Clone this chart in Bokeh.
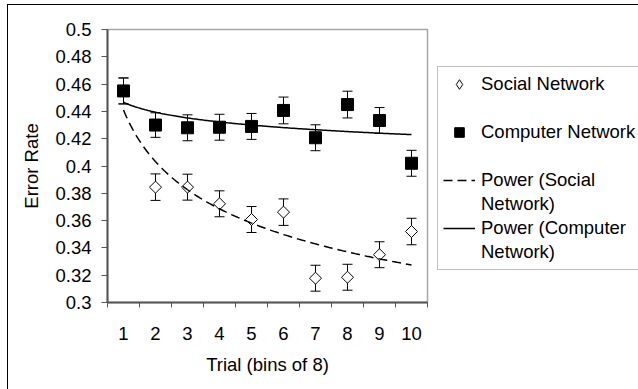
import numpy as np
from bokeh.plotting import figure
from bokeh.models import (ColumnDataSource, Whisker, TeeHead, FixedTicker,
                          Legend, LegendItem, Range1d)
from bokeh.embed import file_html
from bokeh.resources import INLINE

# ---- data ----
trials = [1, 2, 3, 4, 5, 6, 7, 8, 9, 10]
social_rate = [0.455, 0.3845, 0.3845, 0.3723, 0.3608, 0.3662, 0.3178, 0.3185, 0.335, 0.352]
social_err = [0.0095, 0.0097, 0.0095, 0.0095, 0.0095, 0.0097, 0.0095, 0.0095, 0.0095, 0.0097]
computer_rate = [0.455, 0.4300, 0.428, 0.4284, 0.429, 0.4407, 0.4207, 0.445, 0.4333, 0.402]
computer_err = [0.0095, 0.009, 0.0095, 0.0095, 0.0095, 0.0098, 0.0095, 0.0098, 0.0095, 0.0095]

y_ticks = [0.3, 0.32, 0.34, 0.36, 0.38, 0.4, 0.42, 0.44, 0.46, 0.48, 0.5]
y_tick_labels = ["0.3", "0.32", "0.34", "0.36", "0.38", "0.4", "0.42", "0.44", "0.46", "0.48", "0.5"]
x_tick_labels = ["1", "2", "3", "4", "5", "6", "7", "8", "9", "10"]
x_label = "Trial (bins of 8)"
y_label = "Error Rate"
legend_lines = ["Social Network", " ", "Computer Network", " ",
                "Power (Social", "Network)", "Power (Computer", "Network)"]

FONT = "Liberation Sans"
FS = "18.5px"

p = figure(frame_width=320, frame_height=273, output_backend="svg", toolbar_location=None,
           x_range=Range1d(0.5, 10.5), y_range=Range1d(0.3, 0.5),
           min_border_left=99, min_border_right=211, min_border_top=24,
           min_border_bottom=87,
           styles={"margin-top": "4px", "margin-left": "7px",
                   "border-top": "1px solid black", "border-left": "1px solid black"})
p.background_fill_color = "white"
p.border_fill_color = "white"
p.outline_line_color = "#a6a6a6"
p.outline_line_width = 1.5
p.grid.visible = False

# x axis
p.xaxis.ticker = FixedTicker(ticks=trials, minor_ticks=[t - 0.5 for t in trials] + [trials[-1] + 0.5])
p.xaxis.major_label_overrides = {t: l for t, l in zip(trials, x_tick_labels)}
p.xaxis.major_tick_out = 0
p.xaxis.major_tick_in = 0
p.xaxis.minor_tick_out = 5
p.xaxis.minor_tick_in = 0
p.xaxis.major_label_standoff = 19
p.xaxis.axis_label = x_label
p.xaxis.axis_label_standoff = 11

# y axis
p.yaxis.ticker = FixedTicker(ticks=y_ticks, minor_ticks=[])
p.yaxis.major_label_overrides = {t: l for t, l in zip(y_ticks, y_tick_labels)}
p.yaxis.major_tick_out = 6
p.yaxis.major_tick_in = 0
p.yaxis.major_label_standoff = 10
p.yaxis.axis_label = y_label
p.yaxis.axis_label_standoff = 10

for ax in (p.xaxis, p.yaxis):
    ax.axis_line_color = "#555555"
    ax.axis_line_width = 2
    ax.major_tick_line_color = "#555555"
    ax.minor_tick_line_color = "#555555"
    ax.major_label_text_font = FONT
    ax.major_label_text_font_size = FS
    ax.major_label_text_color = "black"
    ax.axis_label_text_font = FONT
    ax.axis_label_text_font_size = FS
    ax.axis_label_text_font_style = "normal"
    ax.axis_label_text_color = "black"

# sources
s_src = ColumnDataSource(dict(x=trials, y=social_rate,
                              upper=[v + e for v, e in zip(social_rate, social_err)],
                              lower=[v - e for v, e in zip(social_rate, social_err)]))
c_src = ColumnDataSource(dict(x=trials, y=computer_rate,
                              upper=[v + e for v, e in zip(computer_rate, computer_err)],
                              lower=[v - e for v, e in zip(computer_rate, computer_err)]))

for src in (s_src, c_src):
    w = Whisker(base="x", upper="upper", lower="lower", source=src, dimension="height",
                line_color="black", line_width=1, level="underlay",
                upper_head=TeeHead(size=10, line_color="black", line_width=1),
                lower_head=TeeHead(size=10, line_color="black", line_width=1))
    p.add_layout(w)

r_social = p.scatter("x", "y", source=s_src, marker="square", angle=np.pi / 4, size=8.5,
                     fill_color="white", line_color="black", line_width=1)
r_comp = p.scatter("x", "y", source=c_src, marker="square", size=12,
                   fill_color="black", line_color="black")

# power trend lines (least squares fit in log-log space, as a spreadsheet does)
lx = np.log(np.array(trials, dtype=float))
b_s, lna_s = np.polyfit(lx, np.log(social_rate), 1)
b_c, lna_c = np.polyfit(lx, np.log(computer_rate), 1)
xs = np.linspace(trials[0], trials[-1], 200)
r_pow_s = p.line(xs, np.exp(lna_s) * xs ** b_s, line_color="black", line_width=1.5,
                 line_dash="9 5")
r_pow_c = p.line(xs, np.exp(lna_c) * xs ** b_c, line_color="black", line_width=1.5)

# legend proxies
blank = p.scatter(x=[], y=[], fill_alpha=0, line_alpha=0)
proxy_social = p.scatter("x", "y", source=s_src, marker="diamond", size=0,
                         fill_color="white", line_color="black", line_width=1)

renderers = [proxy_social, blank, r_comp, blank, r_pow_s, blank, r_pow_c, blank]
items = [LegendItem(label=lbl, renderers=[r]) for lbl, r in zip(legend_lines, renderers)]
legend = Legend(items=items, location=(10, 32), padding=5, spacing=0, margin=0,
                glyph_width=32, glyph_height=24, label_height=24, label_standoff=6,
                label_text_font=FONT, label_text_font_size=FS, label_text_color="black",
                border_line_color="#808080", border_line_width=1,
                background_fill_color="white", background_fill_alpha=1.0)
p.add_layout(legend, "right")

open("out.html", "w").write(file_html(p, INLINE))
